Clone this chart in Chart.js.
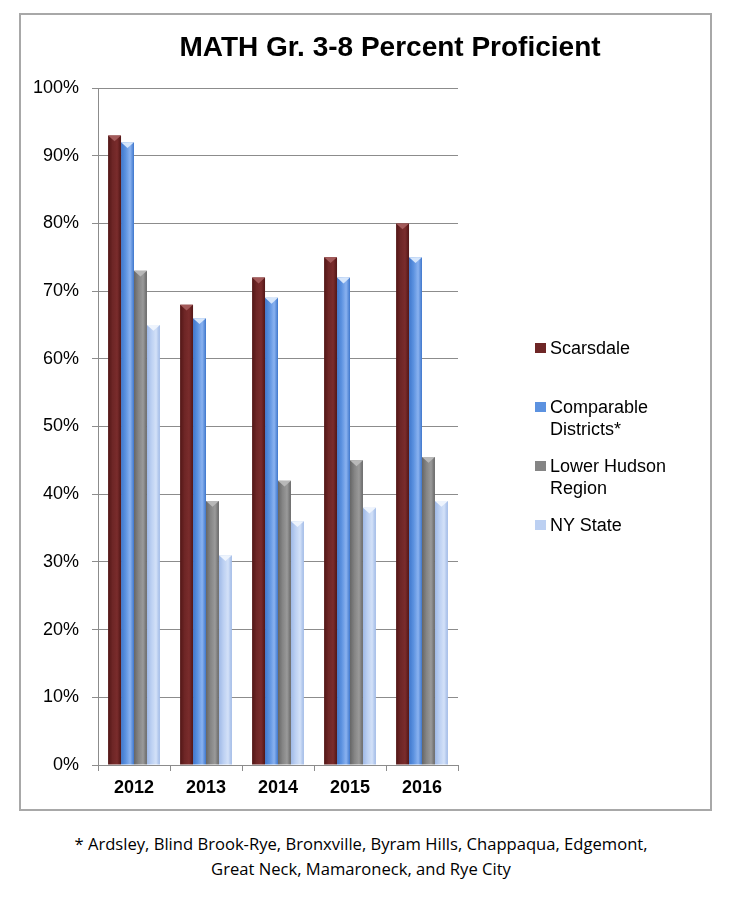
<!DOCTYPE html>
<html>
<head>
<meta charset="utf-8">
<script src="https://cdn.jsdelivr.net/npm/chart.js@4"></script>
<style>
  body { margin: 0; background: #fff; }
  #page { position: relative; width: 742px; height: 908px; font-family: "Liberation Sans", Arial, sans-serif; }
  #frame { position: absolute; left: 19px; top: 13px; width: 689px; height: 794px; border: 2px solid #a8a8a8; }
  #chartBox { position: absolute; left: 0; top: 0; width: 689px; height: 794px; }
  #title { position: absolute; left: 0; width: 780px; top: 31px; text-align: center; font-weight: bold; font-size: 28px; color: #000; }
  #legend { position: absolute; left: 535px; top: 337px; }
  .item { position: relative; height: 59px; padding-left: 15px; font-size: 18px; line-height: 22px; color: #000; }
  .swatch { position: absolute; left: 0; top: 6px; width: 11px; height: 10px; }
  #note { position: absolute; left: 0; width: 722px; top: 831px; text-align: center; font-family: "Open Sans", sans-serif; font-size: 16.6px; line-height: 25px; color: #000; }
</style>
</head>
<body>
<div id="page">
  <div id="frame">
    <div id="chartBox"><canvas id="mathChart"></canvas></div>
  </div>
  <div id="title">MATH Gr. 3-8 Percent Proficient</div>
  <div id="legend"></div>
  <div id="note">* Ardsley, Blind Brook-Rye, Bronxville, Byram Hills, Chappaqua, Edgemont,<br>Great Neck, Mamaroneck, and Rye City</div>
</div>
<script>
// Data
const years = ['2012', '2013', '2014', '2015', '2016'];
const scarsdale = [93, 68, 72, 75, 80];
const comparable = [92, 66, 69, 72, 75];
const lowerHudson = [73, 39, 42, 45, 45.5];
const nyState = [65, 31, 36, 38, 39];
const seriesNames = [['Scarsdale'], ['Comparable', 'Districts*'], ['Lower Hudson', 'Region'], ['NY State']];
const yTicks = [0, 10, 20, 30, 40, 50, 60, 70, 80, 90, 100];

// edge / mid / highlight colours for the cylinder look
const shades = [
    ['#521616', '#6e2626', '#7a2c2c'],
    ['#3f77cc', '#5c92e0', '#8ab2f0'],
    ['#666666', '#858585', '#9a9a9a'],
    ['#9fb9e6', '#bcd0f2', '#d3e1f8']
];
const capColors = ['#a35a5a', '#d6e6fb', '#b8b8b8', '#eef4fd'];

const groupPct = 0.72;

function barFill(ctx) {
    const chart = ctx.chart;
    const s = shades[ctx.datasetIndex];
    const xs = chart.scales.x;
    if (!xs || ctx.type !== 'data' || !isFinite(xs.width) || xs.width <= 0) return s[1];
    const n = chart.data.datasets.length;
    const catW = xs.width / years.length;
    const barW = catW * groupPct / n;
    const center = xs.getPixelForValue(ctx.dataIndex);
    const left = center - catW * groupPct / 2 + ctx.datasetIndex * barW;
    if (!isFinite(left) || !isFinite(barW)) return s[1];
    const g = chart.ctx.createLinearGradient(left, 0, left + barW, 0);
    g.addColorStop(0, s[0]);
    g.addColorStop(0.35, s[1]);
    g.addColorStop(0.7, s[2]);
    g.addColorStop(1, s[0]);
    return g;
}

// small pointed cap on top of each bar, using the bar elements' own positions
const capPlugin = {
    id: 'caps',
    afterDatasetsDraw(chart) {
        const c = chart.ctx;
        chart.data.datasets.forEach((ds, di) => {
            chart.getDatasetMeta(di).data.forEach(bar => {
                const p = bar.getProps(['x', 'y', 'width'], true);
                const h = p.width * 0.45;
                c.save();
                c.fillStyle = capColors[di];
                c.beginPath();
                c.moveTo(p.x - p.width / 2, p.y);
                c.lineTo(p.x + p.width / 2, p.y);
                c.lineTo(p.x, p.y + h);
                c.closePath();
                c.fill();
                c.restore();
            });
        });
    }
};

const allSeries = [scarsdale, comparable, lowerHudson, nyState];

const chart = new Chart(document.getElementById('mathChart'), {
    type: 'bar',
    data: {
        labels: years,
        datasets: allSeries.map((vals, i) => ({
            label: seriesNames[i].join(' '),
            data: vals,
            backgroundColor: barFill,
            borderWidth: 0,
            categoryPercentage: groupPct,
            barPercentage: 1
        }))
    },
    options: {
        responsive: true,
        maintainAspectRatio: false,
        animation: false,
        layout: { padding: { top: 73, right: 252, left: 0, bottom: 0 } },
        plugins: {
            legend: { display: false },
            title: { display: false },
            tooltip: { enabled: false }
        },
        scales: {
            x: {
                grid: { drawOnChartArea: false, color: '#8c8c8c', tickLength: 6 },
                border: { color: '#8c8c8c' },
                ticks: { color: '#000', font: { family: 'Liberation Sans', size: 18, weight: 'bold' }, padding: 6 },
                afterFit(scale) { scale.height = 44; }
            },
            y: {
                min: 0,
                max: 100,
                afterBuildTicks(scale) { scale.ticks = yTicks.map(v => ({ value: v })); },
                grid: { color: '#8c8c8c', tickLength: 6 },
                border: { color: '#8c8c8c' },
                ticks: {
                    color: '#000',
                    font: { family: 'Liberation Sans', size: 18 },
                    padding: 13,
                    callback: v => v + '%'
                },
                afterFit(scale) { scale.width = 77; }
            }
        }
    },
    plugins: [capPlugin]
});
// redraw once the scales exist so the gradients line up with the bars
chart.update();

// legend as html so the two-line labels wrap like the original
const legend = document.getElementById('legend');
seriesNames.forEach((lines, i) => {
    const item = document.createElement('div');
    item.className = 'item';
    item.innerHTML = `<span class="swatch" style="background:${shades[i][1]}"></span>${lines.join('<br>')}`;
    legend.appendChild(item);
});
</script>
</body>
</html>
